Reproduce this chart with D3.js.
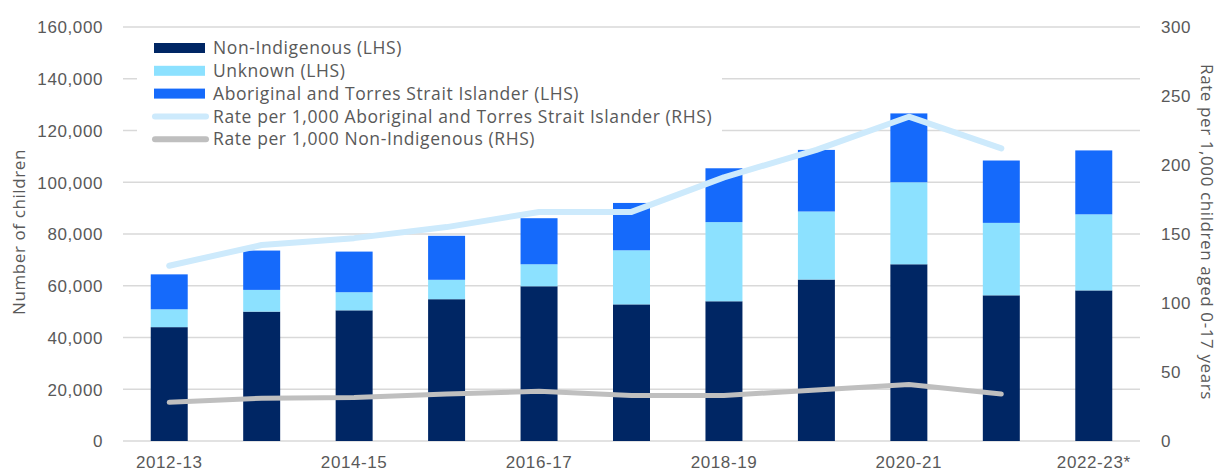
<!DOCTYPE html>
<html>
<head>
<meta charset="utf-8">
<script src="https://cdn.jsdelivr.net/npm/d3@7"></script>
<style>
  body { margin: 0; background: #fff; }
  svg { display: block; font-family: "Open Sans", Roboto, sans-serif; }
  .axis text { fill: #595959; font-size: 17px; letter-spacing: 0.6px; }
  .axis path, .axis line { display: none; }
</style>
</head>
<body>
<div id="chart"></div>
<script>
const years = ["2012-13", "2013-14", "2014-15", "2015-16", "2016-17", "2017-18",
  "2018-19", "2019-20", "2020-21", "2021-22", "2022-23*"];
const yearLabels = ["2012-13", "", "2014-15", "", "2016-17", "", "2018-19", "", "2020-21", "", "2022-23*"];

// counts (left axis)
const nonIndigenous = [44000, 50000, 50500, 54800, 59800, 52800, 54000, 62400, 68300, 56300, 58200];
const unknown = [6900, 8400, 7000, 7500, 8500, 20900, 30600, 26300, 31700, 28000, 29400];
const aboriginal = [13500, 15200, 15700, 17000, 17800, 18300, 20800, 23800, 26600, 24100, 24700];

// rates per 1,000 (right axis)
const rateAboriginal = [127, 142, 147, 155, 166, 166, 191, 211, 235, 212, null];
const rateNonIndigenous = [28, 31, 31.5, 34, 36, 33, 33, 37, 41, 34, null];

const leftTicks = [0, 20000, 40000, 60000, 80000, 100000, 120000, 140000, 160000];
const rightTicks = [0, 50, 100, 150, 200, 250, 300];

const w = 1221, h = 472;
const plotLeft = 123, plotRight = 1140, plotTop = 27, plotBottom = 441;

const colors = {
  non: "#002664",
  unknown: "#8ce1ff",
  abor: "#156afb",
  rateAbor: "#cdeafc",
  rateNon: "#bfbfbf"
};

const svg = d3.select("#chart").append("svg")
  .attr("width", w)
  .attr("height", h);

const xScale = d3.scaleBand()
  .domain(years)
  .range([plotLeft, plotRight])
  .paddingInner(0.6)
  .paddingOuter(0.3);

const yScale = d3.scaleLinear().domain([0, 160000]).range([plotBottom, plotTop]);
const y2Scale = d3.scaleLinear().domain([0, 300]).range([plotBottom, plotTop]);

// gridlines
svg.append("g")
  .selectAll("line")
  .data(leftTicks)
  .enter()
  .append("line")
  .attr("x1", plotLeft)
  .attr("x2", plotRight)
  .attr("y1", d => yScale(d))
  .attr("y2", d => yScale(d))
  .attr("stroke", "#d9d9d9")
  .attr("stroke-width", 1.5);

// stacked bars
const rows = years.map((y, i) => ({
  year: y,
  non: nonIndigenous[i],
  unknown: unknown[i],
  abor: aboriginal[i]
}));
const stack = d3.stack().keys(["non", "unknown", "abor"])(rows);

svg.append("g")
  .selectAll("g")
  .data(stack)
  .enter()
  .append("g")
  .attr("fill", d => colors[d.key])
  .selectAll("rect")
  .data(d => d)
  .enter()
  .append("rect")
  .attr("x", d => xScale(d.data.year))
  .attr("y", d => yScale(d[1]))
  .attr("width", xScale.bandwidth())
  .attr("height", d => yScale(d[0]) - yScale(d[1]));

// rate lines
const line = d3.line()
  .defined(d => d[1] != null)
  .x(d => xScale(d[0]) + xScale.bandwidth() / 2)
  .y(d => y2Scale(d[1]));

svg.append("path")
  .datum(years.map((y, i) => [y, rateAboriginal[i]]))
  .attr("d", line)
  .attr("fill", "none")
  .attr("stroke", colors.rateAbor)
  .attr("stroke-width", 6)
  .attr("stroke-linecap", "round")
  .attr("stroke-linejoin", "round");

svg.append("path")
  .datum(years.map((y, i) => [y, rateNonIndigenous[i]]))
  .attr("d", line)
  .attr("fill", "none")
  .attr("stroke", colors.rateNon)
  .attr("stroke-width", 5)
  .attr("stroke-linecap", "round")
  .attr("stroke-linejoin", "round");

// axes
svg.append("g")
  .attr("class", "axis")
  .attr("transform", "translate(" + (plotLeft - 17) + ",0)")
  .call(d3.axisLeft(yScale).tickValues(leftTicks).tickSize(0).tickFormat(d3.format(",")))
  .selectAll("text").attr("dy", "0.35em");

svg.append("g")
  .attr("class", "axis")
  .attr("transform", "translate(" + (plotRight + 18) + ",0)")
  .call(d3.axisRight(y2Scale).tickValues(rightTicks).tickSize(0))
  .selectAll("text").attr("dy", "0.35em");

svg.append("g")
  .attr("class", "axis")
  .attr("transform", "translate(0," + (plotBottom + 12) + ")")
  .call(d3.axisBottom(xScale).tickSize(0).tickFormat((d, i) => yearLabels[i]));

// axis titles
svg.append("text")
  .attr("transform", "translate(25,232) rotate(-90)")
  .attr("text-anchor", "middle")
  .attr("fill", "#595959")
  .attr("font-size", 17)
  .attr("letter-spacing", 0.6)
  .text("Number of children");

svg.append("text")
  .attr("transform", "translate(1201,232) rotate(90)")
  .attr("text-anchor", "middle")
  .attr("fill", "#595959")
  .attr("font-size", 17)
  .attr("letter-spacing", 0.6)
  .text("Rate per 1,000 children aged 0-17 years");

// legend
const legendItems = [
  { label: "Non-Indigenous (LHS)", color: colors.non, type: "rect" },
  { label: "Unknown (LHS)", color: colors.unknown, type: "rect" },
  { label: "Aboriginal and Torres Strait Islander (LHS)", color: colors.abor, type: "rect" },
  { label: "Rate per 1,000 Aboriginal and Torres Strait Islander (RHS)", color: colors.rateAbor, type: "line" },
  { label: "Rate per 1,000 Non-Indigenous (RHS)", color: colors.rateNon, type: "line" }
];

const legend = svg.append("g");
legend.append("rect")
  .attr("x", 137)
  .attr("y", 33)
  .attr("width", 585)
  .attr("height", 120)
  .attr("fill", "#fff");

const item = legend.selectAll("g.item")
  .data(legendItems)
  .enter()
  .append("g")
  .attr("class", "item")
  .attr("transform", (d, i) => "translate(0," + (48 + i * 22.8) + ")");

item.filter(d => d.type === "rect")
  .append("rect")
  .attr("x", 154)
  .attr("y", -5)
  .attr("width", 51)
  .attr("height", 10)
  .attr("fill", d => d.color);

item.filter(d => d.type === "line")
  .append("line")
  .attr("x1", 155)
  .attr("x2", 206)
  .attr("stroke", d => d.color)
  .attr("stroke-width", 6)
  .attr("stroke-linecap", "round");

item.append("text")
  .attr("x", 213)
  .attr("dy", "0.35em")
  .attr("fill", "#595959")
  .attr("font-size", 17.5)
  .attr("letter-spacing", 0.6)
  .text(d => d.label);
</script>
</body>
</html>
